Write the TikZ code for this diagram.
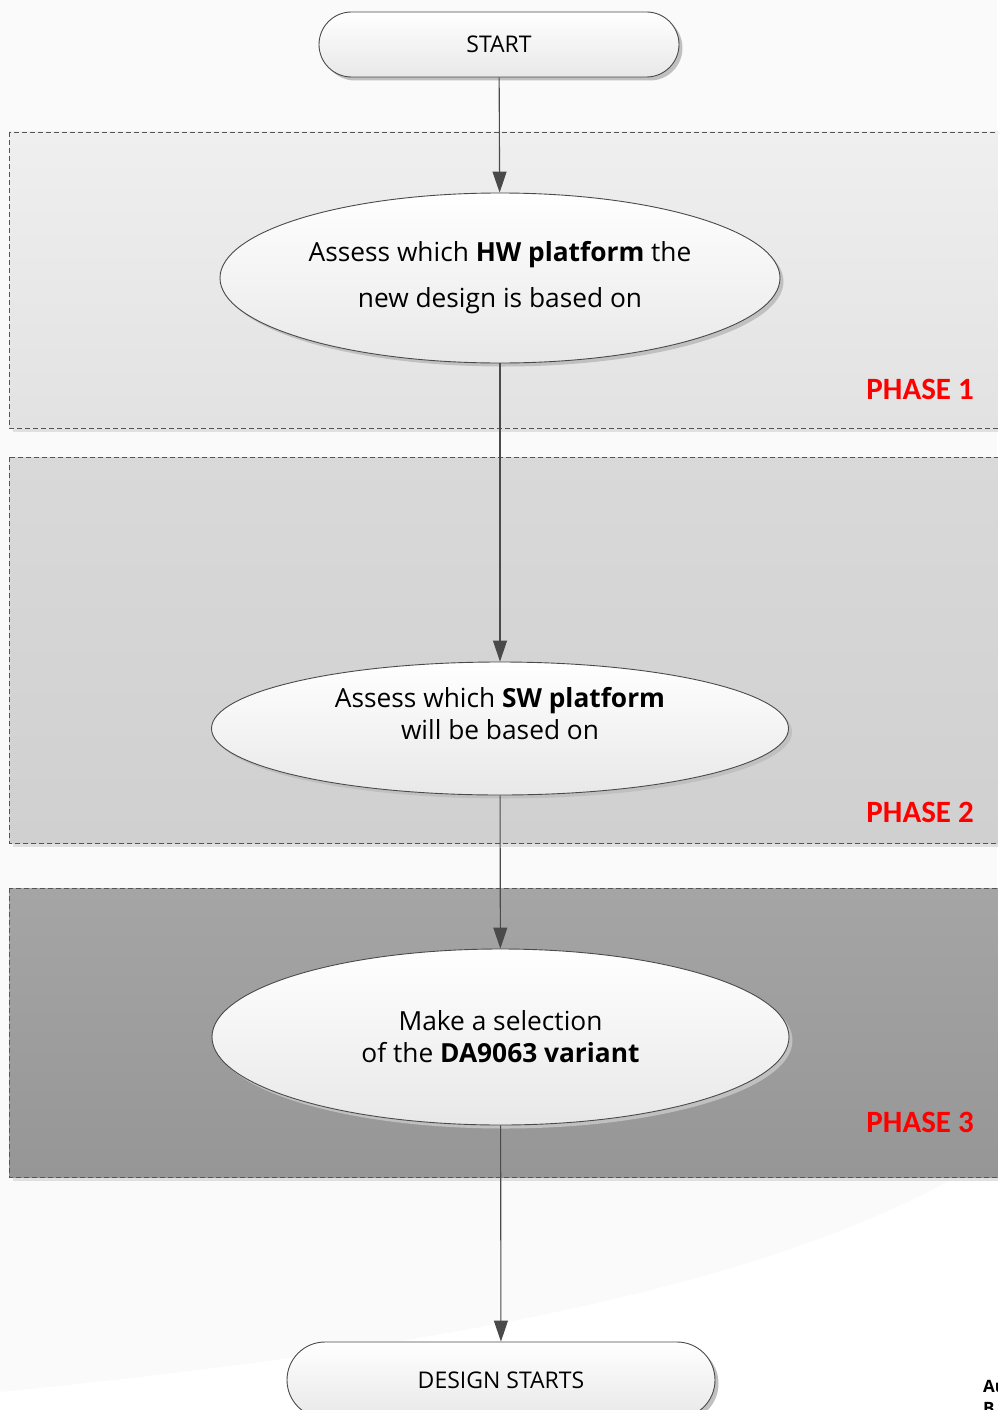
\documentclass[tikz,border=0pt]{standalone}
\usepackage{fontspec}
\setmainfont{Open Sans}
\newfontfamily\phasefont{Carlito}
\usetikzlibrary{arrows.meta,shapes.geometric,shapes.misc,shadows}
\definecolor{bgc}{HTML}{FAFAFA}
\definecolor{pAtop}{HTML}{EFEFEF}
\definecolor{pAbot}{HTML}{E2E2E2}
\definecolor{pBtop}{HTML}{D9D9D9}
\definecolor{pBbot}{HTML}{D0D0D0}
\definecolor{pCtop}{HTML}{A5A5A5}
\definecolor{pCbot}{HTML}{969696}
\definecolor{pshadow}{HTML}{E0E0E0}
\definecolor{edgec}{HTML}{4A4A4A}
\definecolor{dashc}{HTML}{555555}
\definecolor{linec}{HTML}{4A4A4A}
\definecolor{ellbot}{HTML}{E8E8E8}
\definecolor{eshadow}{HTML}{C0C0C0}
\definecolor{phasered}{HTML}{FF0000}
\tikzset{
  shapeshadow/.style={drop shadow={shadow xshift=3.5pt,shadow yshift=-3.5pt,fill=eshadow,opacity=1}},
  terminal/.style={rounded rectangle, draw=edgec, line width=0.9pt, top color=white, bottom color=ellbot,
    inner sep=0pt, shapeshadow, font=\fontsize{23}{27}\selectfont},
  proc/.style={ellipse, draw=edgec, line width=0.9pt, top color=white, bottom color=ellbot,
    inner sep=0pt, shapeshadow, align=center},
  phasebox/.style={draw=dashc, dash pattern=on 5pt off 3pt, line width=0.9pt},
  phaselabel/.style={anchor=east, inner sep=0pt, text=phasered, font=\phasefont\bfseries\fontsize{31}{31}\selectfont},
  flow/.style={draw=linec, line width=1.1pt, -{Triangle[length=21pt,width=14pt,fill=edgec]}},
  cornertext/.style={anchor=west, inner sep=0pt, font=\bfseries\fontsize{17}{17}\selectfont}
}
\begin{document}
\begin{tikzpicture}[x=1pt,y=-1pt]
\useasboundingbox (0,0) rectangle (997,1410);
% background
\fill[bgc] (0,0) rectangle (997,1410);
\fill[white] (0,1392) .. controls (420,1350) and (760,1290) .. (965,1172) -- (997,1172) -- (997,1410) -- (0,1410) -- cycle;
% phase boxes
\fill[pshadow] (13,136) rectangle (1010,432);
\shade[top color=pAtop,bottom color=pAbot,phasebox] (9,132) rectangle (1010,428);
\fill[pshadow] (13,461) rectangle (1010,847);
\shade[top color=pBtop,bottom color=pBbot,phasebox] (9,457) rectangle (1010,843);
\fill[pshadow] (13,892) rectangle (1010,1181);
\shade[top color=pCtop,bottom color=pCbot,phasebox] (9,888) rectangle (1010,1177);
% phase labels
\node[phaselabel] (ph1) at (974,389) {PHASE 1};
\node[phaselabel] (ph2) at (974,812) {PHASE 2};
\node[phaselabel] (ph3) at (974,1122) {PHASE 3};
% nodes
\node[terminal, minimum width=360pt, minimum height=65pt] (start) at (499,44.5) {START};
\node[proc, minimum width=560pt, minimum height=170pt, font=\fontsize{26.3}{46}\selectfont] (hw) at (500,278)
  {Assess which \textbf{HW platform} the\\new design is based on};
\node[proc, minimum width=577pt, minimum height=133pt,
  label={[yshift=15pt, align=center, inner sep=0pt, font=\fontsize{26.3}{32}\selectfont]center:Assess which \textbf{SW platform}\\will be based on}] (sw) at (500,728.5) {};
\node[proc, minimum width=577pt, minimum height=176pt, font=\fontsize{26.3}{32}\selectfont] (var) at (500.5,1037)
  {Make a selection\\of the \textbf{DA9063 variant}};
\node[terminal, minimum width=428pt, minimum height=76pt] (design) at (501,1380) {DESIGN STARTS};
% connectors
\draw[flow] (start) -- (hw);
\draw[flow] (hw) -- (sw);
\draw[flow] (sw) -- (var);
\draw[flow] (var) -- (design);
% cut-off corner text (cut off in the reference as well)
\node[cornertext] (au) at (983,1386) {Au};
\node[cornertext] (be) at (983,1408) {B};
\end{tikzpicture}
\end{document}
